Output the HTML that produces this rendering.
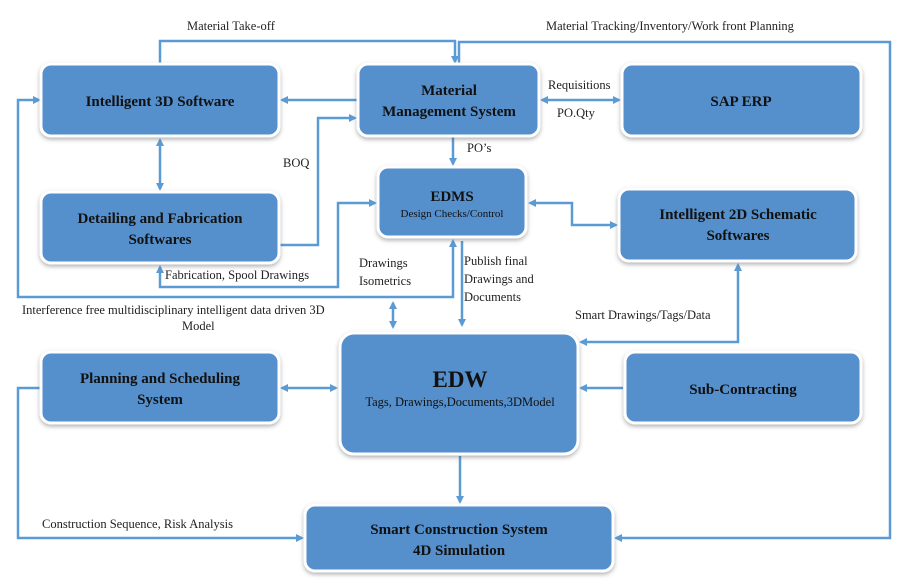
<!DOCTYPE html>
<html><head><meta charset="utf-8"><style>
html,body{margin:0;padding:0;background:#fff}
svg{display:block}
svg, svg text{font-family:"Liberation Serif","Times New Roman","DejaVu Serif",serif}
.b{fill:#5590cc;stroke:#fff;stroke-width:3;filter:url(#sh)}
.t{font-weight:bold;font-size:15px;fill:#111;text-anchor:middle}
.l{font-size:12.5px;fill:#222}
.c{fill:none;stroke:#5b9bd5;stroke-width:2.5}
</style></head><body>
<svg width="903" height="587" viewBox="0 0 903 587" xmlns="http://www.w3.org/2000/svg" font-family="Liberation Serif, serif">
<defs>
<filter id="sh" x="-10%" y="-10%" width="120%" height="130%"><feDropShadow dx="0" dy="2" stdDeviation="2" flood-color="#555" flood-opacity="0.45"/></filter>
<marker id="a" markerWidth="8" markerHeight="8" refX="6" refY="4" orient="auto-start-reverse" markerUnits="userSpaceOnUse"><path d="M0,0 L8,4 L0,8 z" fill="#5b9bd5"/></marker>
</defs>
<rect width="903" height="587" fill="#fff"/>
<path class="c" d="M160,64 V41 H455 V62" marker-end="url(#a)"/>
<path class="c" d="M459,64 V42 H890 V538 H616" marker-end="url(#a)"/>
<path class="c" d="M357,100 H282" marker-end="url(#a)"/>
<path class="c" d="M280,245 H318 V118 H355" marker-end="url(#a)"/>
<path class="c" d="M160,140 V189" marker-start="url(#a)" marker-end="url(#a)"/>
<path class="c" d="M542,100 H619" marker-start="url(#a)" marker-end="url(#a)"/>
<path class="c" d="M453,137 V164" marker-end="url(#a)"/>
<path class="c" d="M530,203 H572 V225 H616" marker-start="url(#a)" marker-end="url(#a)"/>
<path class="c" d="M453,241 V297 H18 V100 H39" marker-start="url(#a)" marker-end="url(#a)"/>
<path class="c" d="M160,267 V287 H338 V203 H375" marker-start="url(#a)" marker-end="url(#a)"/>
<path class="c" d="M462,241 V325" marker-end="url(#a)"/>
<path class="c" d="M393,303 V327" marker-start="url(#a)" marker-end="url(#a)"/>
<path class="c" d="M738,265 V342 H581" marker-start="url(#a)" marker-end="url(#a)"/>
<path class="c" d="M623,388 H581" marker-end="url(#a)"/>
<path class="c" d="M282,388 H336" marker-start="url(#a)" marker-end="url(#a)"/>
<path class="c" d="M460,456 V502" marker-end="url(#a)"/>
<path class="c" d="M42,388 H18 V538 H302" marker-end="url(#a)"/>
<rect class="b" x="41" y="64" width="238" height="72" rx="10"/>
<rect class="b" x="41" y="192" width="238" height="71" rx="10"/>
<rect class="b" x="358" y="64" width="181" height="72" rx="10"/>
<rect class="b" x="622" y="64" width="239" height="72" rx="10"/>
<rect class="b" x="378" y="167" width="148" height="70" rx="10"/>
<rect class="b" x="619" y="189" width="237" height="72" rx="10"/>
<rect class="b" x="340" y="333" width="238" height="121" rx="14"/>
<rect class="b" x="41" y="352" width="238" height="71" rx="10"/>
<rect class="b" x="625" y="352" width="236" height="71" rx="10"/>
<rect class="b" x="305" y="505" width="308" height="66" rx="10"/>
<text class="t" x="160" y="106">Intelligent 3D Software</text>
<text class="t" x="160" y="223">Detailing and Fabrication</text>
<text class="t" x="160" y="244">Softwares</text>
<text class="t" x="449" y="95">Material</text>
<text class="t" x="449" y="116">Management System</text>
<text class="t" x="741" y="106">SAP ERP</text>
<text class="t" x="452" y="201">EDMS</text>
<text x="452" y="217" style="font-size:11px" text-anchor="middle" fill="#111">Design Checks/Control</text>
<text class="t" x="738" y="219">Intelligent 2D Schematic</text>
<text class="t" x="738" y="240">Softwares</text>
<text class="t" x="460" y="387" style="font-size:23px">EDW</text>
<text x="460" y="406" style="font-size:12.5px" text-anchor="middle" fill="#111">Tags, Drawings,Documents,3DModel</text>
<text class="t" x="160" y="383">Planning and Scheduling</text>
<text class="t" x="160" y="404">System</text>
<text class="t" x="743" y="394">Sub-Contracting</text>
<text class="t" x="459" y="534">Smart Construction System</text>
<text class="t" x="459" y="555">4D Simulation</text>
<text class="l" x="187" y="30">Material  Take-off</text>
<text class="l" x="546" y="30">Material Tracking/Inventory/Work  front Planning</text>
<text class="l" x="548" y="89">Requisitions</text>
<text class="l" x="557" y="117">PO.Qty</text>
<text class="l" x="467" y="152">PO’s</text>
<text class="l" x="283" y="167">BOQ</text>
<text class="l" x="165" y="279">Fabrication,  Spool Drawings</text>
<text class="l" x="359" y="267">Drawings</text>
<text class="l" x="359" y="285">Isometrics</text>
<text class="l" x="464" y="265">Publish final</text>
<text class="l" x="464" y="283">Drawings and</text>
<text class="l" x="464" y="301">Documents</text>
<text class="l" x="22" y="314">Interference free multidisciplinary  intelligent  data driven 3D</text>
<text class="l" x="182" y="330">Model</text>
<text class="l" x="575" y="319">Smart Drawings/Tags/Data</text>
<text class="l" x="42" y="528">Construction Sequence, Risk Analysis</text>
</svg>
</body></html>
